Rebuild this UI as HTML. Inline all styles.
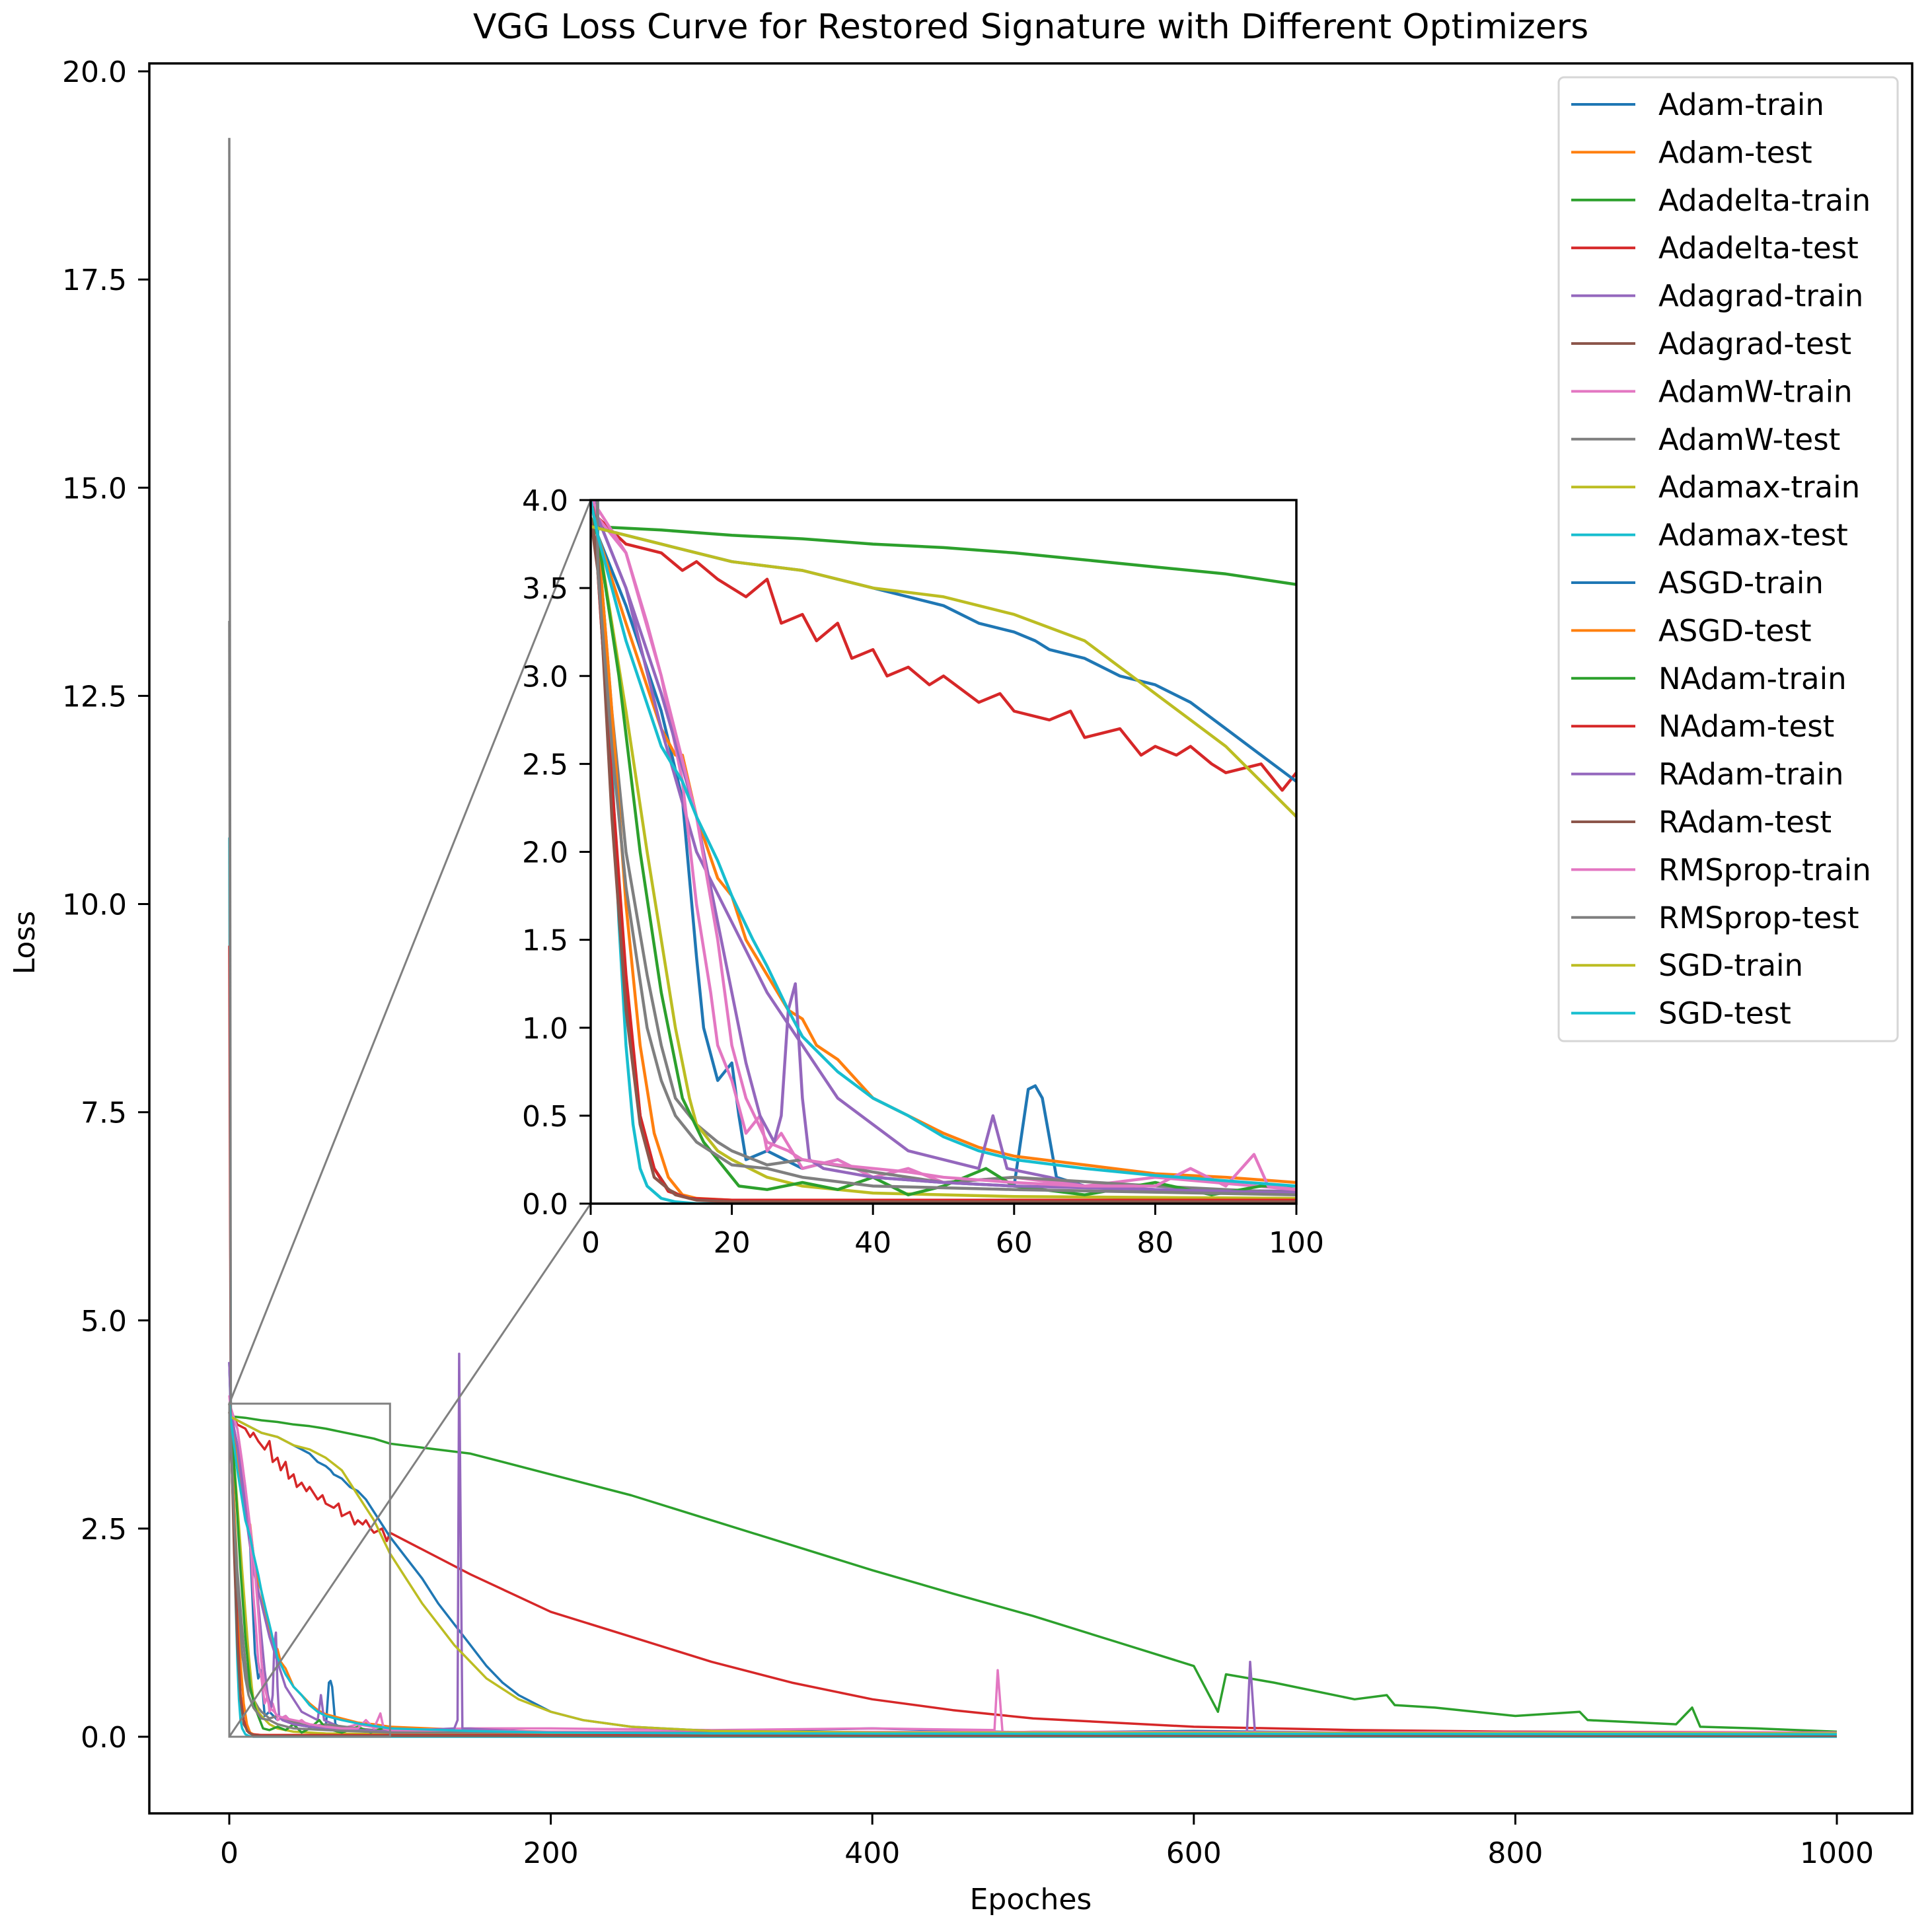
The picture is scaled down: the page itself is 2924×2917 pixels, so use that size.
<!DOCTYPE html>
<html><head><meta charset="utf-8">
<style>
html,body{margin:0;padding:0;background:#fff;}
svg{display:block;font-family:"DejaVu Sans","Liberation Sans",sans-serif;}
</style></head>
<body>
<svg id="chart" width="2924" height="2917" viewBox="0 0 2924 2917" xmlns="http://www.w3.org/2000/svg">
<rect width="2924" height="2917" fill="#fff"/>
<text x="1560" y="58" font-size="52" text-anchor="middle">VGG Loss Curve for Restored Signature with Different Optimizers</text>
<text x="1560" y="2890" font-size="44" text-anchor="middle">Epoches</text>
<text x="0" y="0" font-size="44" text-anchor="middle" transform="translate(52,1427) rotate(-90)">Loss</text>
<defs>
<clipPath id="mainClip"><rect x="226" y="96" width="2668" height="2649"/></clipPath>
<clipPath id="insetClip"><rect x="894" y="757" width="1068" height="1065"/></clipPath>
</defs>
<g id="main"></g>
<g id="inset"></g>
<g id="legend"></g>
</svg>
<script>
const seriesNames = ["Adam-train","Adam-test","Adadelta-train","Adadelta-test","Adagrad-train","Adagrad-test","AdamW-train","AdamW-test","Adamax-train","Adamax-test","ASGD-train","ASGD-test","NAdam-train","NAdam-test","RAdam-train","RAdam-test","RMSprop-train","RMSprop-test","SGD-train","SGD-test"];
const seriesColors = ["#1f77b4","#ff7f0e","#2ca02c","#d62728","#9467bd","#8c564b","#e377c2","#7f7f7f","#bcbd22","#17becf","#1f77b4","#ff7f0e","#2ca02c","#d62728","#9467bd","#8c564b","#e377c2","#7f7f7f","#bcbd22","#17becf"];
const seriesEpochs = [
 [0,1,5,10,13,15,16,18,20,21,22,25,30,35,40,50,60,62,63,64,66,70,80,100,150,200,300,400,500,600,700,800,900,1000],
 [0,1,5,10,12,13,15,18,20,22,25,28,30,32,35,40,45,50,55,60,70,80,90,100,150,200,300,500,700,1000],
 [0,10,20,30,40,50,60,70,80,90,100,150,200,250,300,350,400,450,500,550,600,615,620,650,700,720,725,750,800,840,845,900,910,915,950,1000],
 [0,1,5,10,13,15,18,20,22,25,27,30,32,35,37,40,42,45,48,50,55,58,60,65,68,70,75,78,80,83,85,88,90,95,98,100,150,200,250,300,350,400,450,500,600,700,800,1000],
 [0,1,5,10,15,20,25,30,35,40,45,50,55,57,59,65,70,80,100,150,300,500,633,635,638,700,1000],
 [0,1,3,5,7,9,11,13,16,20,50,100,1000],
 [0,1,5,8,10,13,15,17,18,20,22,24,25,27,30,35,40,45,50,60,70,80,100,150,200,300,400,476,478,481,500,700,1000],
 [0,1,3,5,8,10,12,15,18,20,25,30,40,50,60,80,100,200,1000],
 [0,1,3,5,8,10,12,14,15,18,20,25,30,40,60,100,1000],
 [0,1,2,3,4,5,6,7,8,10,12,15,1000],
 [0,10,20,30,35,40,45,50,55,60,63,65,70,75,80,85,90,95,100,110,120,130,140,150,160,170,180,200,220,250,300,400,600,1000],
 [0,1,3,5,7,9,11,13,15,20,100,1000],
 [0,1,4,7,10,13,16,19,21,25,30,35,40,45,50,56,60,70,80,88,95,100,150,300,1000],
 [0,1,3,5,7,9,11,14,20,60,1000],
 [0,1,5,10,15,18,20,22,24,26,27,28,29,30,31,33,40,50,60,80,100,140,142,143,145,200,1000],
 [0,1,3,5,7,9,12,15,20,1000],
 [0,1,5,10,15,18,20,22,25,28,30,35,40,45,50,60,70,80,85,90,94,96,100,200,1000],
 [0,1,3,5,8,10,12,15,20,25,30,40,60,100,1000],
 [0,10,20,30,40,50,60,70,75,80,85,90,95,100,110,120,130,140,150,160,180,200,220,250,300,400,1000],
 [0,1,5,10,13,15,18,20,23,25,28,30,35,40,45,50,55,60,70,80,90,100,150,200,300,1000]
];
const seriesLoss = [
 [4.5,3.8,3.4,2.8,2.3,1.4,1.0,0.7,0.8,0.5,0.25,0.3,0.2,0.25,0.15,0.12,0.1,0.65,0.67,0.6,0.15,0.1,0.08,0.06,0.1,0.05,0.06,0.1,0.05,0.07,0.05,0.06,0.05,0.05],
 [4.0,3.8,3.3,2.7,2.55,2.55,2.2,1.85,1.75,1.5,1.3,1.1,1.05,0.9,0.82,0.6,0.5,0.4,0.32,0.27,0.22,0.17,0.15,0.12,0.08,0.06,0.05,0.05,0.04,0.04],
 [3.85,3.83,3.8,3.78,3.75,3.73,3.7,3.66,3.62,3.58,3.52,3.4,3.15,2.9,2.6,2.3,2.0,1.72,1.45,1.15,0.85,0.3,0.75,0.65,0.45,0.5,0.38,0.35,0.25,0.3,0.2,0.15,0.35,0.12,0.1,0.06],
 [4.0,3.9,3.75,3.7,3.6,3.65,3.55,3.5,3.45,3.55,3.3,3.35,3.2,3.3,3.1,3.15,3.0,3.05,2.95,3.0,2.85,2.9,2.8,2.75,2.8,2.65,2.7,2.55,2.6,2.55,2.6,2.5,2.45,2.5,2.35,2.45,1.95,1.5,1.2,0.9,0.65,0.45,0.32,0.22,0.12,0.08,0.06,0.05],
 [4.5,3.9,3.5,2.7,2.0,1.6,1.2,0.9,0.6,0.45,0.3,0.25,0.2,0.5,0.2,0.15,0.1,0.08,0.07,0.06,0.05,0.05,0.05,0.9,0.05,0.05,0.05],
 [3.9,3.6,2.4,1.2,0.5,0.2,0.08,0.04,0.02,0.02,0.02,0.01,0.01],
 [4.1,3.9,3.7,3.3,3.0,2.4,1.7,1.2,0.9,0.7,0.4,0.5,0.3,0.4,0.2,0.25,0.15,0.2,0.12,0.15,0.1,0.15,0.08,0.1,0.1,0.08,0.1,0.08,0.8,0.05,0.06,0.05,0.04],
 [19.2,3.8,2.8,2.0,1.3,0.9,0.6,0.45,0.35,0.3,0.22,0.25,0.18,0.12,0.15,0.1,0.06,0.05,0.04],
 [3.9,3.8,3.3,2.8,2.0,1.5,1.0,0.6,0.45,0.3,0.25,0.15,0.1,0.06,0.04,0.03,0.02],
 [10.8,3.8,3.3,2.5,1.6,0.9,0.45,0.2,0.1,0.03,0.01,0.0,0.0],
 [3.85,3.75,3.65,3.6,3.55,3.5,3.45,3.4,3.3,3.25,3.2,3.15,3.1,3.0,2.95,2.85,2.7,2.55,2.4,2.15,1.9,1.6,1.35,1.1,0.85,0.65,0.5,0.3,0.2,0.12,0.07,0.05,0.04,0.03],
 [4.0,3.8,2.8,1.7,0.9,0.4,0.15,0.05,0.03,0.02,0.02,0.01],
 [3.9,3.8,3.0,2.0,1.2,0.6,0.35,0.2,0.1,0.08,0.12,0.08,0.15,0.05,0.1,0.2,0.1,0.05,0.12,0.05,0.1,0.1,0.05,0.06,0.04],
 [9.5,3.6,2.4,1.3,0.5,0.2,0.07,0.03,0.02,0.02,0.01],
 [4.5,3.9,3.5,2.9,2.2,1.6,1.2,0.8,0.5,0.35,0.5,1.1,1.25,0.6,0.25,0.2,0.15,0.12,0.1,0.08,0.06,0.1,0.2,4.6,0.1,0.05,0.04],
 [3.9,3.7,2.2,1.1,0.45,0.15,0.05,0.02,0.01,0.01],
 [4.0,3.95,3.7,3.0,2.2,1.5,0.9,0.6,0.35,0.3,0.25,0.22,0.2,0.18,0.15,0.12,0.1,0.1,0.2,0.1,0.28,0.1,0.08,0.06,0.05],
 [13.4,3.6,2.6,1.8,1.0,0.7,0.5,0.35,0.22,0.2,0.15,0.1,0.08,0.05,0.04],
 [3.85,3.75,3.65,3.6,3.5,3.45,3.35,3.2,3.05,2.9,2.75,2.6,2.4,2.2,1.9,1.6,1.35,1.1,0.9,0.7,0.45,0.3,0.2,0.12,0.07,0.05,0.04],
 [4.0,3.8,3.2,2.6,2.4,2.2,1.95,1.75,1.5,1.35,1.1,0.95,0.75,0.6,0.5,0.38,0.3,0.25,0.2,0.16,0.13,0.1,0.07,0.05,0.04,0.03]
];
const mainXTicks = [0,200,400,600,800,1000];
const mainYTicks = [0,2.5,5,7.5,10,12.5,15,17.5,20];
const insetXTicks = [0,20,40,60,80,100];
const insetYTicks = [0,0.5,1,1.5,2,2.5,3,3.5,4];

const NS = "http://www.w3.org/2000/svg";
function mk(parent, tag, attrs){const e=document.createElementNS(NS,tag);for(const k in attrs)e.setAttribute(k,attrs[k]);parent.appendChild(e);return e;}
const mx = v => 347 + v*2.433;
const my = v => 2629 - v*126.05;
const ix = v => 894 + v*10.68;
const iy = v => 1822 - v*266.25;

const mainG = document.getElementById('main');
const insetG = document.getElementById('inset');
const legendG = document.getElementById('legend');

const mainLines = mk(mainG,'g',{'clip-path':'url(#mainClip)'});


seriesNames.forEach((n,i)=>{
  const pts = seriesEpochs[i].map((e,j)=>mx(e).toFixed(1)+','+my(seriesLoss[i][j]).toFixed(1)).join(' ');
  const pl = mk(mainLines,'polyline',{points:pts,fill:'none',stroke:seriesColors[i],'stroke-width':3.5,'stroke-linejoin':'round'});
  
  
});
const zr = mk(mainG,'rect',{x:mx(0),y:my(4),width:mx(100)-mx(0),height:my(0)-my(4),fill:'none',stroke:'#808080','stroke-width':3});


const c1 = mk(mainG,'line',{x1:mx(0),y1:my(4),x2:894,y2:757,stroke:'#808080','stroke-width':3});


const c2 = mk(mainG,'line',{x1:mx(0),y1:my(0),x2:894,y2:1822,stroke:'#808080','stroke-width':3});


const mf = mk(mainG,'rect',{x:226,y:96,width:2668,height:2649,fill:'none',stroke:'#000','stroke-width':3.5});


mainXTicks.forEach(t=>{
  const l=mk(mainG,'line',{x1:mx(t),x2:mx(t),y1:2745,y2:2762,stroke:'#000','stroke-width':3});
  
  
  const tx=mk(mainG,'text',{x:mx(t),y:2820,'font-size':44,'text-anchor':'middle'});
  
  
  tx.textContent=String(t);
});
mainYTicks.forEach(t=>{
  const l=mk(mainG,'line',{x1:209,x2:226,y1:my(t),y2:my(t),stroke:'#000','stroke-width':3});
  
  
  const tx=mk(mainG,'text',{x:192,y:my(t)+16,'font-size':44,'text-anchor':'end'});
  
  
  tx.textContent=t.toFixed(1);
});

const ib = mk(insetG,'rect',{x:894,y:757,width:1068,height:1065,fill:'#fff'});


const insetLines = mk(insetG,'g',{'clip-path':'url(#insetClip)'});


seriesNames.forEach((n,i)=>{
  const pts = seriesEpochs[i].map((e,j)=>ix(e).toFixed(1)+','+iy(seriesLoss[i][j]).toFixed(1)).join(' ');
  const pl = mk(insetLines,'polyline',{points:pts,fill:'none',stroke:seriesColors[i],'stroke-width':4.5,'stroke-linejoin':'round'});
  
  
});
const inf = mk(insetG,'rect',{x:894,y:757,width:1068,height:1065,fill:'none',stroke:'#000','stroke-width':3.5});


insetXTicks.forEach(t=>{
  const l=mk(insetG,'line',{x1:ix(t),x2:ix(t),y1:1822,y2:1839,stroke:'#000','stroke-width':3});
  
  
  const tx=mk(insetG,'text',{x:ix(t),y:1896,'font-size':44,'text-anchor':'middle'});
  
  
  tx.textContent=String(t);
});
insetYTicks.forEach(t=>{
  const l=mk(insetG,'line',{x1:877,x2:894,y1:iy(t),y2:iy(t),stroke:'#000','stroke-width':3});
  
  
  const tx=mk(insetG,'text',{x:860,y:iy(t)+16,'font-size':44,'text-anchor':'end'});
  
  
  tx.textContent=t.toFixed(1);
});

const lb = mk(legendG,'rect',{x:2359,y:117,width:513,height:1459,rx:8,fill:'#fff',stroke:'#d6d6d6','stroke-width':3});


seriesNames.forEach((n,i)=>{
  const y = 158 + i*72.4;
  const g = mk(legendG,'g',{});
  
  
  mk(g,'line',{x1:2378,x2:2475,y1:y,y2:y,stroke:seriesColors[i],'stroke-width':4});
  const tx = mk(g,'text',{x:2510,y:y+16,'font-size':45});
  tx.textContent = n;
});
</script>
</body></html>
